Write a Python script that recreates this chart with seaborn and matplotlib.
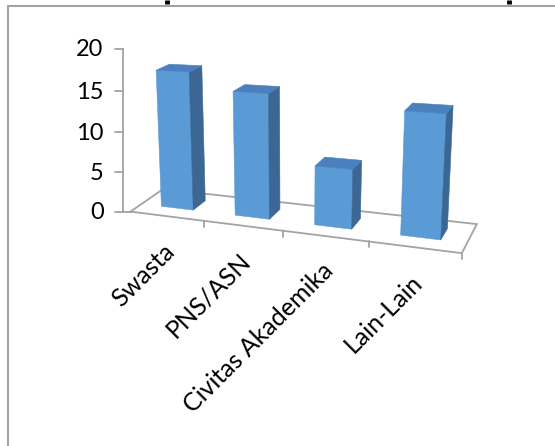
import numpy as np
import pandas as pd
import matplotlib
matplotlib.use("Agg")
import matplotlib.pyplot as plt
from matplotlib.transforms import Transform
from matplotlib.patches import Polygon
import seaborn as sns

# ---- data -------------------------------------------------------------
categories = ["Swasta", "PNS/ASN", "Civitas Akademika", "Lain-Lain"]
values = [17, 15, 7, 14]
y_ticks = [0, 5, 10, 15, 20]

# ---- style ------------------------------------------------------------
W, H = 555, 446
FRONT = "#5b9bd5"
TOP = "#4a80bd"
SIDE = "#3c6794"
FRAME = "#a3a3a3"

sns.set_theme(style="white")
plt.rcParams["font.family"] = ["Lato", "DejaVu Sans"]

# ---- perspective camera -------------------------------------------------
# World: X = category position, Y = value, Z = depth (0 front .. 1 back).
# The floor plane is a homography fitted to the frame anchors; verticals
# converge towards a vanishing point far below the chart.
floor_world = [(-0.5, 0), (3.5, 0), (3.5, 1), (-0.5, 1), (0.5, 0), (1.5, 0), (2.5, 0)]
floor_pix = [(130, 210), (462, 253), (477, 223), (163, 190), (205, 221), (283, 231), (368, 243)]
VERT_VP = (292.0, 3590.0)
AXIS_TOP_PIX = 49.0


def fit_homography(src, dst):
    rows = []
    for (x, z), (u, v) in zip(src, dst):
        rows.append([x, z, 1, 0, 0, 0, -u * x, -u * z, -u])
        rows.append([0, 0, 0, x, z, 1, -v * x, -v * z, -v])
    _, _, vt = np.linalg.svd(np.asarray(rows, float))
    hm = vt[-1].reshape(3, 3)
    if hm[2] @ np.array([src[0][0], src[0][1], 1.0]) < 0:
        hm = -hm
    return hm


Hm = fit_homography(floor_world, floor_pix)
a = Hm @ np.array([-0.5, 0.0, 1.0])
ymax = y_ticks[-1]
s = (AXIS_TOP_PIX * a[2] - a[1]) / (ymax * (VERT_VP[1] - AXIS_TOP_PIX))
P = np.column_stack([Hm[:, 0], s * np.array([VERT_VP[0], VERT_VP[1], 1.0]), Hm[:, 1], Hm[:, 2]])


def project(X, Y, Z):
    X, Y, Z = np.broadcast_arrays(np.asarray(X, float), np.asarray(Y, float), np.asarray(Z, float))
    q = np.column_stack([X.ravel(), Y.ravel(), Z.ravel(), np.ones(X.size)]) @ P.T
    return q[:, :2] / q[:, 2:3]


class DepthPlane(Transform):
    """Maps (category, value) on a constant-depth plane to canvas pixels."""
    input_dims = output_dims = 2

    def __init__(self, plane_z):
        super().__init__()
        self.plane_z = plane_z

    def transform_non_affine(self, values):
        v = np.asarray(values, float)
        return project(v[:, 0], v[:, 1], self.plane_z)


# ---- figure -------------------------------------------------------------
fig = plt.figure(figsize=(W / 100, H / 100), dpi=100)
ax = fig.add_axes([0, 0, 1, 1])

df = pd.DataFrame({"Pekerjaan": categories, "Jumlah": values})
BAR_W = 0.44
Z_FRONT, Z_BACK = 0.33, 0.73
sns.barplot(data=df, x="Pekerjaan", y="Jumlah", width=BAR_W, color=FRONT,
            saturation=1, errorbar=None, linewidth=0, ax=ax, zorder=3)

front_plane = DepthPlane(Z_FRONT) + ax.transData
for bar in list(ax.patches):
    x0, w, h = bar.get_x(), bar.get_width(), bar.get_height()
    bar.set_transform(front_plane)
    bar.set_edgecolor(FRONT)
    bar.set_linewidth(0.4)
    side = project([x0 + w] * 4, [0, h, h, 0], [Z_FRONT, Z_FRONT, Z_BACK, Z_BACK])
    top = project([x0, x0 + w, x0 + w, x0], [h] * 4, [Z_FRONT, Z_FRONT, Z_BACK, Z_BACK])
    ax.add_patch(Polygon(side, closed=True, fc=SIDE, ec=SIDE, lw=0.4, zorder=3))
    ax.add_patch(Polygon(top, closed=True, fc=TOP, ec=TOP, lw=0.4, zorder=3))

ax.set_xlim(0, W)
ax.set_ylim(H, 0)
ax.axis("off")

# floor frame
n = len(categories)
cx = np.array([-0.5, n - 0.5, n - 0.5, -0.5, -0.5])
cz = np.array([0, 0, 1, 1, 0])
fl = project(cx, 0, cz)
ax.plot(fl[:, 0], fl[:, 1], color=FRAME, lw=1.3, zorder=1, solid_joinstyle="miter")

# category boundary ticks on the floor's front edge
for b in np.arange(0.5, n, 1.0):
    p = project(b, 0, 0)[0]
    ax.plot([p[0], p[0]], [p[1], p[1] + 6], color=FRAME, lw=1.3, zorder=1)

# value axis
axis_top = project(-0.5, ymax, 0)[0]
axis_x = axis_top[0]
corner = project(-0.5, 0, 0)[0]
tick_y = {v: project(-0.5, v, 0)[0][1] for v in y_ticks}
ax.plot([axis_x, axis_x], [tick_y[0], tick_y[ymax]], color=FRAME, lw=1.3, zorder=1)
for v in y_ticks:
    x_end = corner[0] if v == 0 else axis_x
    ax.plot([axis_x - 8, x_end], [tick_y[v], tick_y[v]], color=FRAME, lw=1.3, zorder=1)
    ax.text(axis_x - 19, tick_y[v] + 1, str(v), ha="right", va="center",
            fontsize=17, color="black")

# category labels
for i, name in enumerate(categories):
    p = project(i, 0, 0)[0]
    ax.text(p[0] - 4, p[1] + 23, name, rotation=45, rotation_mode="anchor",
            ha="right", va="top", fontsize=18, color="black")

# chart border
ax.plot([8, W], [5.5, 5.5], color=FRAME, lw=1.5, zorder=0)
ax.plot([8, 8], [5.5, H], color=FRAME, lw=1.5, zorder=0)
# clipped title descenders above the border
for tx in (167, 509):
    ax.plot([tx, tx], [0, 4], color="black", lw=3.5, solid_capstyle="butt")

fig.savefig("out.png", dpi=100)
